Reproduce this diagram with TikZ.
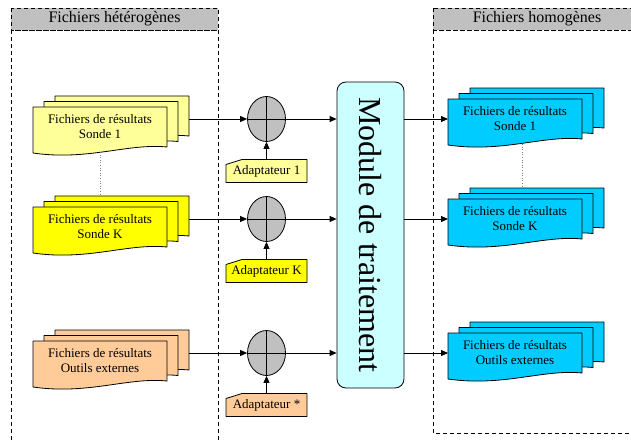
\documentclass[tikz,border=0pt]{standalone}
\usepackage{fontspec}
\setmainfont{Liberation Serif}
\usetikzlibrary{arrows.meta,shapes.geometric}
\definecolor{jaunepale}{HTML}{FFFF99}
\definecolor{jaune}{HTML}{FFFF00}
\definecolor{saumon}{HTML}{FFCC99}
\definecolor{bleu}{HTML}{00CCFF}
\definecolor{bleupale}{HTML}{CCFFFF}
\definecolor{gris}{HTML}{C0C0C0}
\newcommand\feuille[3]{\filldraw[fill=#3] (#1,#2) -- (#1+134,#2) -- (#1+134,#2+40) .. controls (#1+95,#2+36) and (#1+55,#2+54) .. (#1,#2+46) -- cycle;}
\newcommand\pile[5]{%
\feuille{#2+22}{#3-11}{#4}
\feuille{#2+11}{#3-5.5}{#4}
\feuille{#2}{#3}{#4}
\node[texte] (#1) at (#2+67,#3+20) {#5};
\coordinate (#1-e) at (#2+156,#3+12);
\coordinate (#1-w) at (#2,#3+20);
\coordinate (#1-top) at (#2+67,#3-11);
\coordinate (#1-bot) at (#2+67,#3+45);}
\newcommand\adaptateur[4]{%
\filldraw[fill=#3] (226,#2+23) -- (226,#2+5) -- (242,#2) -- (307,#2) -- (307,#2+23) -- cycle;
\node[adapt] (#1) at (266.5,#2+11.5) {#4};}
\begin{document}
\begin{tikzpicture}[x=1pt,y=-1pt,line join=round,line width=0.8pt,>={Triangle[length=7pt,width=6pt]},
texte/.style={align=center,inner sep=0pt,font=\fontsize{13}{15}\selectfont},
adapt/.style={inner sep=0pt,minimum width=81pt,minimum height=23pt,font=\fontsize{13}{15}\selectfont},
somme/.style={ellipse,draw,fill=gris,inner sep=0pt,minimum width=38pt,minimum height=45pt,
  path picture={\draw (path picture bounding box.north) -- (path picture bounding box.south)
  (path picture bounding box.west) -- (path picture bounding box.east);}},
cadre/.style={dash pattern=on 4pt off 3pt,line width=0.7pt},
titre/.style={font=\fontsize{16}{18}\selectfont,inner sep=0pt}]
\clip (0,0) rectangle (631,439);
\draw[cadre] (11,30) rectangle (218,450);
\filldraw[cadre,fill=gris] (11,8) rectangle (218,30);
\node[titre] (hetero) at (114.5,19) {Fichiers hétérogènes};
\draw[cadre] (433,30) rectangle (641,433);
\filldraw[cadre,fill=gris] (433,8) rectangle (641,30);
\node[titre] (homo) at (537,19) {Fichiers homogènes};

\pile{l1}{33}{107}{jaunepale}{Fichiers de résultats\\Sonde 1}
\pile{lk}{33}{207}{jaune}{Fichiers de résultats\\Sonde K}
\pile{lo}{33}{341}{saumon}{Fichiers de résultats\\Outils externes}
\pile{r1}{448}{99}{bleu}{Fichiers de résultats\\Sonde 1}
\pile{rk}{448}{199}{bleu}{Fichiers de résultats\\Sonde K}
\pile{ro}{448}{333}{bleu}{Fichiers de résultats\\Outils externes}
\draw[dotted,gray,line width=0.6pt] (l1-bot) -- (lk-top);
\draw[dotted,gray,line width=0.6pt] ([xshift=7pt]r1-bot) -- ([xshift=7pt]rk-top);

\node[somme] (s1) at (266.5,119) {};
\node[somme] (sk) at (266.5,219) {};
\node[somme] (so) at (266.5,353) {};
\adaptateur{a1}{159.5}{jaunepale}{Adaptateur 1}
\adaptateur{ak}{259.5}{jaune}{Adaptateur K}
\adaptateur{ao}{393.5}{saumon}{Adaptateur *}

\node[draw,fill=bleupale,rounded corners=9pt,inner sep=0pt,minimum width=67pt,minimum height=306pt] (module) at (370.5,235)
  {\rotatebox{-90}{\fontsize{32}{36}\selectfont Module de traitement}};

\foreach \s/\a/\l/\r in {s1/a1/l1/r1,sk/ak/lk/rk,so/ao/lo/ro}{
\draw[->] (\l-e) -- (\s.west);
\draw[->] (\a.north) -- (\s.south);
\draw[->] (\s.east) -- (\s -| module.west);
\draw[->] (\s -| module.east) -- (\r-w);}
\end{tikzpicture}
\end{document}
